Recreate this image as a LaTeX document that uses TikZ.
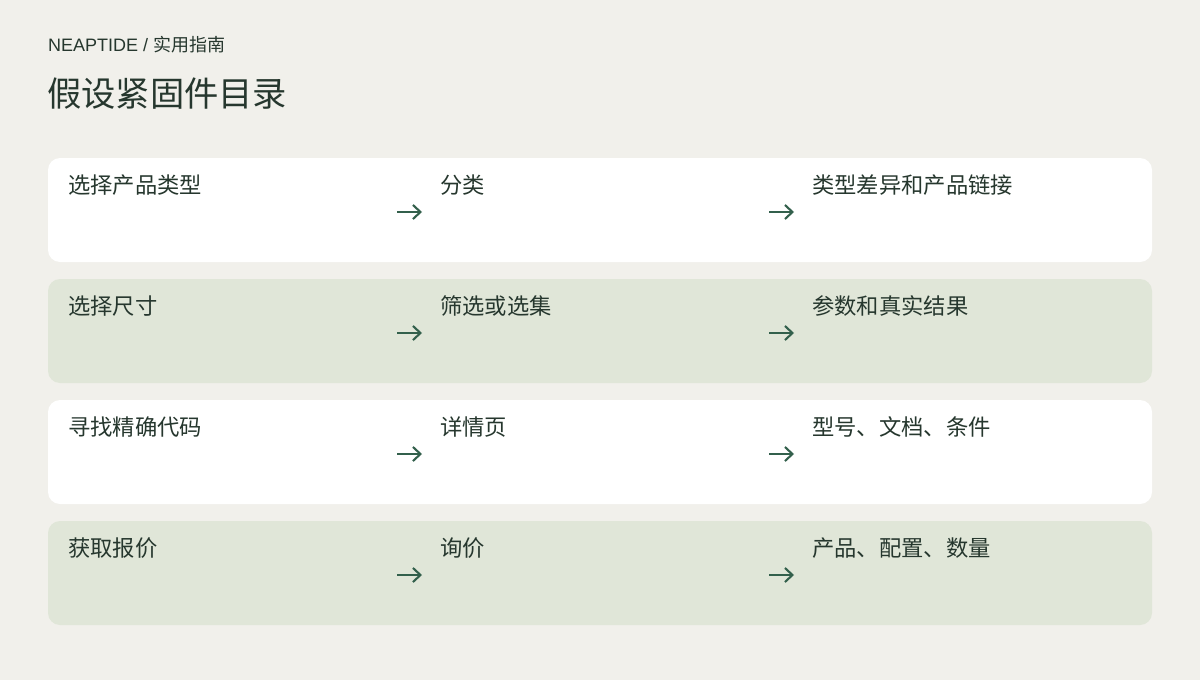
\documentclass[tikz,border=0pt]{standalone}
\usepackage{fontspec}
\usetikzlibrary{arrows.meta}
\newfontfamily\cjk{Noto Sans CJK SC}
\newfontfamily\latin{Liberation Sans}
\definecolor{pagebg}{HTML}{F1F0EB}
\definecolor{rowgreen}{HTML}{E0E6D8}
\definecolor{ink}{HTML}{26372E}
\definecolor{arrowgreen}{HTML}{33604C}

\begin{document}
\begin{tikzpicture}[x=1pt, y=-1pt,
  rowbox/.style={rounded corners=12pt, minimum width=1104pt, minimum height=104pt, inner sep=0pt},
  cell/.style={anchor=base west, inner sep=0pt, text=ink, font=\cjk\fontsize{22.3}{26}\selectfont},
  step arrow/.style={draw=arrowgreen, line width=2.1pt, -{Straight Barb[length=7.5pt, width=14pt]}}]
\useasboundingbox[fill=pagebg] (0,0) rectangle (1200,680);
\node[anchor=base west, inner sep=0pt, text=ink, font=\fontsize{18}{21}\selectfont] (kicker) at (48,51) {\latin NEAPTIDE / \cjk 实用指南};
\node[anchor=base west, inner sep=0pt, text=ink, font=\cjk\fontsize{34.3}{40}\selectfont] (title) at (47,106) {假设紧固件目录};
% rows
\node[rowbox, fill=white] (row1) at (600,210) {};
\node[rowbox, fill=rowgreen] (row2) at (600,331) {};
\node[rowbox, fill=white] (row3) at (600,452) {};
\node[rowbox, fill=rowgreen] (row4) at (600,573) {};
% row 1
\node[cell] (t11) at (68,193) {选择产品类型};
\node[cell] (t12) at (440,193) {分类};
\node[cell] (t13) at (812,193) {类型差异和产品链接};
\coordinate (a11) at (397,212); \coordinate (b11) at (422,212);
\coordinate (a12) at (769,212); \coordinate (b12) at (794,212);
\draw[step arrow] (a11) -- (b11);
\draw[step arrow] (a12) -- (b12);
% row 2
\node[cell] (t21) at (68,314) {选择尺寸};
\node[cell] (t22) at (440,314) {筛选或选集};
\node[cell] (t23) at (812,314) {参数和真实结果};
\coordinate (a21) at (397,333); \coordinate (b21) at (422,333);
\coordinate (a22) at (769,333); \coordinate (b22) at (794,333);
\draw[step arrow] (a21) -- (b21);
\draw[step arrow] (a22) -- (b22);
% row 3
\node[cell] (t31) at (68,435) {寻找精确代码};
\node[cell] (t32) at (440,435) {详情页};
\node[cell] (t33) at (812,435) {型号、文档、条件};
\coordinate (a31) at (397,454); \coordinate (b31) at (422,454);
\coordinate (a32) at (769,454); \coordinate (b32) at (794,454);
\draw[step arrow] (a31) -- (b31);
\draw[step arrow] (a32) -- (b32);
% row 4
\node[cell] (t41) at (68,556) {获取报价};
\node[cell] (t42) at (440,556) {询价};
\node[cell] (t43) at (812,556) {产品、配置、数量};
\coordinate (a41) at (397,575); \coordinate (b41) at (422,575);
\coordinate (a42) at (769,575); \coordinate (b42) at (794,575);
\draw[step arrow] (a41) -- (b41);
\draw[step arrow] (a42) -- (b42);
\end{tikzpicture}
\end{document}
